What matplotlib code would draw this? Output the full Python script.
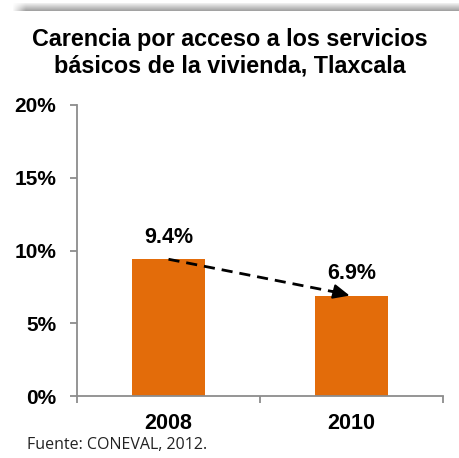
import numpy as np
import matplotlib
matplotlib.use("Agg")
import matplotlib.pyplot as plt

years = ["2008", "2010"]
values = [9.4, 6.9]
yticks = [0, 5, 10, 15, 20]
ytick_labels = ["0%", "5%", "10%", "15%", "20%"]
title_lines = ["Carencia por acceso a los servicios",
               "básicos de la vivienda, Tlaxcala"]
source = "Fuente: CONEVAL, 2012."

W, H = 460, 458
fig = plt.figure(figsize=(W / 100, H / 100), dpi=100)
plt.rcParams['font.family'] = ['Liberation Sans', 'DejaVu Sans']

# top gray shadow strip
gax = fig.add_axes([12 / W, 1 - 11 / H, 1 - 12 / W, 8 / H])
vert = np.linspace(0.95, 0.62, 40).reshape(-1, 1)
horiz = np.clip(np.linspace(0, 1, 400) / 0.03, 0, 1).reshape(1, -1)
img = 1 - (1 - vert) * horiz
gax.imshow(img, cmap='gray', vmin=0, vmax=1, aspect='auto', extent=[0, 1, 1, 0])
gax.axis('off')

ax = fig.add_axes([77 / W, 1 - 396 / H, (443 - 77) / W, (396 - 105) / H])
x = np.arange(len(years))
ax.bar(x, values, width=0.4, color='#E36C0A', zorder=2)
ax.set_xlim(-0.5, len(years) - 0.5)
ax.set_ylim(0, 20)

axis_col = '#8C8C8C'
for s in ['top', 'right']:
    ax.spines[s].set_visible(False)
for s in ['left', 'bottom']:
    ax.spines[s].set_color(axis_col)
    ax.spines[s].set_linewidth(1.3)

ax.set_yticks(yticks)
ax.set_yticklabels(ytick_labels, fontsize=15, fontweight='bold')
ax.tick_params(axis='y', length=5, width=1.3, color=axis_col, pad=10)

ax.set_xticks(np.arange(-0.5, len(years), 1.0))
ax.set_xticklabels([])
ax.tick_params(axis='x', which='major', length=5, width=1.3, color=axis_col)
ax.set_xticks(x, minor=True)
ax.set_xticklabels(years, minor=True, fontsize=15.5, fontweight='bold')
ax.tick_params(axis='x', which='minor', length=0, pad=12)

for xi, v in zip(x, values):
    ax.text(xi, v + 1.5, f"{v:.1f}%", ha='center', va='center', fontsize=15.5,
            fontweight='bold')

# dashed trend arrow
x0, y0 = x[0], values[0]
x1, y1 = x[1] - 0.01, values[1]
ax.plot([x0, x1 - 0.07], [y0, y1 + 0.22], color='black', lw=2, ls=(0, (4, 2.5)), zorder=3)
ax.annotate('', xy=(x1, y1), xytext=(x1 - 0.1, y1 + 0.32),
            arrowprops=dict(arrowstyle='-|>,head_length=1.0,head_width=0.45',
                            color='black', lw=1.5, shrinkA=0, shrinkB=0), zorder=4)

for line, yb in zip(title_lines, [46, 72]):
    fig.text(0.5, 1 - yb / H, line, ha='center', va='baseline', fontsize=16.8,
             fontweight='bold')
fig.text(27 / W, 1 - 445 / H, source, ha='left', va='center', fontsize=11.5,
         family=['Open Sans', 'DejaVu Sans'], color='#222222')

fig.savefig('out.png', dpi=100)
